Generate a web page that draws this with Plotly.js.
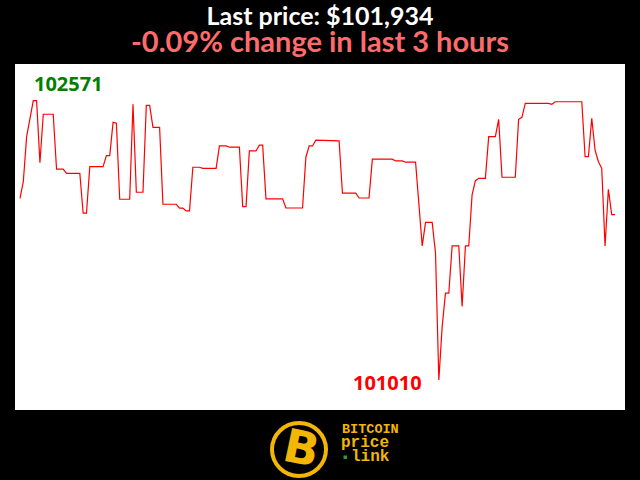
<!DOCTYPE html>
<html>
<head>
<meta charset="utf-8">
<script src="https://cdn.plot.ly/plotly-3.0.1.min.js"></script>
<style>
  html, body { margin: 0; padding: 0; background: #000; }
  #chart { width: 640px; height: 480px; }
</style>
</head>
<body>
<div id="chart"></div>
<script>
// Minute index within the last 3 hours
const minutes = [0,1,2,3,4,5,6,7,10,11,13,14,18,19,20,21,25,26,27,28,29,30,33,34,35,37,38,39,40,42,43,47,48,49,50,51,52,54,55,59,60,62,63,66,67,68,69,71,72,73,74,79,80,85,86,87,88,89,93,94,96,97,101,102,105,106,112,113,115,116,119,121,122,124,125,126,127,128,129,130,132,133,134,135,136,137,138,140,141,143,144,145,149,150,151,152,159,160,161,169,170,171,172,173,174,175,176,177,178,179];
// BTC price (USD)
const prices = [102025,102118,102370,102482,102571,102571,102224,102495,102495,102188,102188,102165,102165,101942,101942,102202,102202,102264,102264,102450,102445,102020,102020,102551,102059,102059,102545,102545,102422,102422,101992,101992,101970,101970,101955,101955,102199,102199,102193,102193,102318,102318,102311,102311,101979,101979,102290,102290,102322,102322,102022,102022,101971,101971,102255,102318,102318,102350,102350,102346,102346,102054,102054,102027,102027,102244,102244,102234,102234,102227,102227,101759,101891,101891,101718,101010,101308,101495,101495,101759,101759,101420,101759,101759,102044,102124,102137,102137,102370,102370,102467,102143,102143,102467,102478,102556,102556,102551,102565,102565,102258,102258,102473,102295,102230,102193,101759,102076,101934,101934];

const lastPrice = prices[prices.length - 1];
const changePct = "-0.09";
const maxPrice = Math.max(...prices);
const minPrice = Math.min(...prices);
const maxIdx = minutes[prices.indexOf(maxPrice)];
const minIdx = minutes[prices.indexOf(minPrice)];

const GOLD = '#f2b705';
const trace = {
  x: minutes, y: prices, type: 'scatter', mode: 'lines',
  line: { color: '#ff0000', width: 1.2 }, hoverinfo: 'skip'
};

function px(x) { return (x - 15) / 610; }
function py(y) { return (410 - y) / 346; }

const layout = {
  width: 640, height: 480,
  margin: { l: 15, r: 15, t: 64, b: 70, pad: 0 },
  paper_bgcolor: '#000000', plot_bgcolor: '#ffffff',
  showlegend: false,
  title: {
    text: '<b>Last price: $' + lastPrice.toLocaleString('en-US') + '</b>',
    font: { family: 'Lato, "Open Sans", sans-serif', size: 25, color: '#ffffff' },
    x: 0.5, xanchor: 'center', xref: 'paper',
    y: 1 - 16 / 480, yanchor: 'middle', yref: 'container'
  },
  xaxis: { range: [-1.5, 182], visible: false, fixedrange: true },
  yaxis: { range: [100842, 102776], visible: false, fixedrange: true },
  shapes: [
    { type: 'circle', xref: 'paper', yref: 'paper',
      x0: px(272), x1: px(326), y0: py(476), y1: py(423),
      line: { color: GOLD, width: 4 }, fillcolor: '#000000', layer: 'above' },
    { type: 'rect', xref: 'paper', yref: 'paper',
      x0: px(343.5), x1: px(347), y0: py(459), y1: py(455.5),
      line: { width: 0 }, fillcolor: '#2f9e2f', layer: 'above' }
  ],
  annotations: [
    { text: '<b>' + changePct + '% change in last 3 hours</b>', xref: 'paper', yref: 'paper',
      x: 0.5, y: py(41), xanchor: 'center', yanchor: 'middle', showarrow: false,
      font: { family: 'Lato, "Open Sans", sans-serif', size: 29, color: '#ff6b6b' } },
    { text: '<b>' + maxPrice + '</b>', x: maxIdx, y: maxPrice, xref: 'x', yref: 'y',
      xanchor: 'left', yanchor: 'middle', xshift: -1, yshift: 17, showarrow: false,
      font: { family: '"Open Sans", sans-serif', size: 20, color: '#008000' } },
    { text: '<b>' + minPrice + '</b>', x: minIdx, y: minPrice, xref: 'x', yref: 'y',
      xanchor: 'right', yanchor: 'middle', xshift: -15, yshift: -3, showarrow: false,
      font: { family: '"Open Sans", sans-serif', size: 20, color: '#ff0000' } },
    { text: '<b>B</b>', xref: 'paper', yref: 'paper', x: px(301), y: py(448),
      xanchor: 'center', yanchor: 'middle', showarrow: false, textangle: 12,
      font: { family: '"DejaVu Sans", sans-serif', size: 46, color: GOLD } },
    { text: '<b>BITCOIN</b>', xref: 'paper', yref: 'paper', x: px(340), y: py(429),
      xanchor: 'left', yanchor: 'middle', showarrow: false,
      font: { family: '"Liberation Mono", "DejaVu Sans Mono", monospace', size: 13.5, color: GOLD } },
    { text: '<b>price</b>', xref: 'paper', yref: 'paper', x: px(339), y: py(443),
      xanchor: 'left', yanchor: 'middle', showarrow: false,
      font: { family: '"Liberation Mono", "DejaVu Sans Mono", monospace', size: 16, color: GOLD } },
    { text: '<b>link</b>', xref: 'paper', yref: 'paper', x: px(349), y: py(457),
      xanchor: 'left', yanchor: 'middle', showarrow: false,
      font: { family: '"Liberation Mono", "DejaVu Sans Mono", monospace', size: 16, color: GOLD } }
  ]
};

Plotly.newPlot('chart', [trace], layout, { staticPlot: true, displayModeBar: false });
</script>
</body>
</html>
